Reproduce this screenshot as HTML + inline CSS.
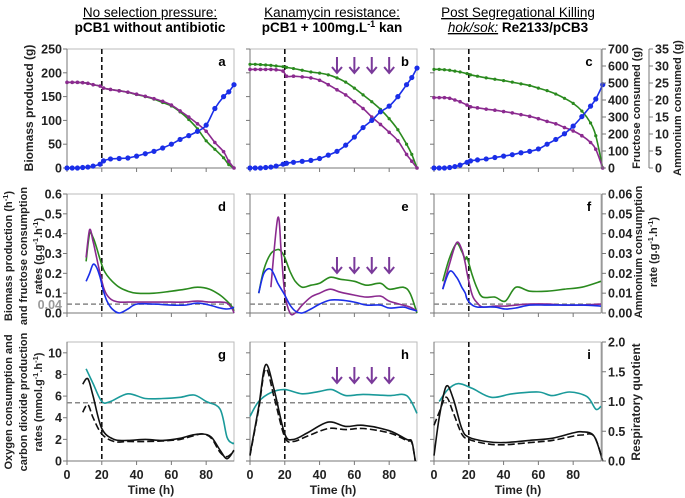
<!DOCTYPE html>
<html><head><meta charset="utf-8"><style>
body{margin:0;background:#fff}
svg{display:block;font-family:"Liberation Sans",Arial,sans-serif}
</style></head><body>
<svg id="fig" width="685" height="498" viewBox="0 0 685 498" xmlns="http://www.w3.org/2000/svg">
<g font-size="13.5" text-anchor="middle">
 <text x="150" y="17" text-decoration="underline">No selection pressure:</text>
 <text x="150" y="32" font-weight="bold">pCB1 without antibiotic</text>
 <text x="332" y="17" text-decoration="underline">Kanamycin resistance:</text>
 <text x="332" y="32" font-weight="bold">pCB1 + 100mg.L<tspan font-size="9" dy="-5">-1</tspan><tspan dy="5"> kan</tspan></text>
 <text x="518" y="17" text-decoration="underline">Post Segregational Killing</text>
 <text x="518" y="32"><tspan font-style="italic" text-decoration="underline">hok/sok:</tspan><tspan font-weight="bold"> Re2133/pCB3</tspan></text>
</g>
<g font-size="11" font-weight="bold" text-anchor="middle" fill="#222">
 <text font-size="12" transform="translate(33,108) rotate(-90)">Biomass produced (g)</text>
 <text transform="translate(12,256) rotate(-90)">Biomass production  (h<tspan font-size="7.5" dy="-4">-1</tspan><tspan dy="4">)</tspan></text>
 <text transform="translate(27,256) rotate(-90)">and fructose consumption</text>
 <text transform="translate(42,256) rotate(-90)">rates (g.g<tspan font-size="7.5" dy="-4">-1</tspan><tspan dy="4">.h</tspan><tspan font-size="7.5" dy="-4">-1</tspan><tspan dy="4">)</tspan></text>
 <text transform="translate(12,402) rotate(-90)">Oxygen consumption and</text>
 <text transform="translate(27,402) rotate(-90)">carbon dioxide production</text>
 <text transform="translate(42,402) rotate(-90)">rates (mmol.g<tspan font-size="7.5" dy="-4">-1</tspan><tspan dy="4">.h</tspan><tspan font-size="7.5" dy="-4">-1</tspan><tspan dy="4">)</tspan></text>
 <text transform="translate(640,108) rotate(-90)">Fructose consumed (g)</text>
 <text transform="translate(681,108) rotate(-90)">Ammonium consumed (g)</text>
 <text transform="translate(642,252) rotate(-90)">Ammonium consumption</text>
 <text transform="translate(657,252) rotate(-90)">rate (g.g<tspan font-size="7.5" dy="-4">-1</tspan><tspan dy="4">.h</tspan><tspan font-size="7.5" dy="-4">-1</tspan><tspan dy="4">)</tspan></text>
 <text font-size="12" transform="translate(640,402) rotate(-90)">Respiratory quotient</text>
 <text font-size="12" x="151" y="494">Time (h)</text>
 <text font-size="12" x="333" y="494">Time (h)</text>
 <text font-size="12" x="518" y="494">Time (h)</text>
</g>
</svg>
<script>
// ---- shared axes
const xTicks = [0,20,40,60,80];
const topTicks = [0,50,100,150,200,250];
const fructTicks = [0,100,200,300,400,500,600,700];
const ammTicks = [0,5,10,15,20,25,30,35];
const midTicks = [0,0.1,0.2,0.3,0.4,0.5,0.6];
const midRightTicks = [0,0.01,0.02,0.03,0.04,0.05,0.06];
const botTicks = [0,2,4,6,8,10];
const rqTicks = [0,0.5,1.0,1.5,2.0];
const arrowHours = [50,60,70,80];

// ---- top row: biomass (g), fructose (g), ammonium (g)
const aT=[0,3,6,9,12,15,19,21,25,30,35,40,45,50,55,60,65,70,75,80,85,90,93,96];
const aBio=[0,0,0,1,2,4,8,15,19,20,21,25,30,35,42,50,60,68,77,90,125,150,160,175];
const aFru=[504,504,504,502,498,490,482,470,462,455,445,432,420,405,385,365,330,285,230,160,110,60,20,0];
const aAmm=[25.2,25.2,25.2,25.1,24.9,24.5,24.1,23.5,23.1,22.7,22.3,21.7,21.1,20.4,19.6,18.5,16.8,15.0,13.0,10.8,7.5,4.8,2.0,0];
const bT=[0,3,6,9,12,15,19,21,25,30,35,40,45,50,55,60,65,70,75,80,85,90,93,96];
const bBio=[0,0,0,1,2,4,8,10,12,14,16,20,27,35,48,65,85,100,118,130,150,175,190,210];
const bFru=[610,610,608,606,604,600,596,592,585,575,565,558,548,530,505,470,430,390,345,290,225,140,80,0];
const bAmm=[29,29,29,29,29,28.9,28.5,27,27,26.8,26.5,25.8,24.5,23,21.5,19.5,17.5,15,12.8,10.5,8,4,2,0];
const cT=[0,3,6,9,12,15,19,21,25,30,35,40,45,50,55,60,65,70,75,80,85,90,93,97];
const cBio=[0,0,0,1,3,6,12,15,17,19,22,25,28,32,35,40,50,60,72,88,108,130,145,175];
const cFru=[580,580,578,575,570,565,555,548,540,530,522,514,505,495,485,470,455,435,410,380,335,265,190,0];
const cAmm=[20.7,20.7,20.7,20.5,20.0,19.5,18.5,18.0,17.7,17.3,17.0,16.6,16.2,15.7,15.2,14.5,13.7,13.0,11.9,10.9,9.5,7.5,5.5,0];

// ---- middle row: rates
const dT=[11,13,15,17,19,21,23,26,30,35,40,50,60,68,75,82,88,92,95,96];
const dGreen=[0.26,0.4,0.38,0.33,0.27,0.22,0.19,0.16,0.13,0.11,0.1,0.1,0.11,0.12,0.13,0.12,0.09,0.06,0.03,0.01];
const dPurple=[0.028,0.042,0.036,0.028,0.02,0.013,0.009,0.0065,0.0055,0.0055,0.0055,0.0055,0.0055,0.0055,0.006,0.0055,0.0055,0.005,0.002,0];
const dBlue=[0.16,0.2,0.245,0.23,0.18,0.11,0.06,0.02,0,0.02,0.045,0.045,0.04,0.04,0.05,0.04,0.025,0.02,0.025,0.03];
const eT=[5,8,12,16,18,20,23,26,30,35,40,46,52,60,67,75,80,88,92,96];
const eGreen=[0.1,0.22,0.3,0.32,0.31,0.28,0.21,0.16,0.13,0.14,0.15,0.18,0.17,0.16,0.14,0.15,0.12,0.13,0.1,0];
const ePurple=[null,null,0.013,0.048,0.03,0.01,0,0,0.004,0.008,0.01,0.012,0.0105,0.009,0.008,0.0085,0.006,0.004,0.003,0.001];
const eBlue=[0.1,0.2,0.22,0.15,0.12,0.09,0.04,0.01,0,0.02,0.045,0.065,0.065,0.055,0.04,0.04,0.025,0.03,0.02,0.01];
const fT=[5,9,13,16,18,19,22,25,28,35,41,47,55,65,75,85,96];
const fGreen=[0.16,0.28,0.35,0.31,0.27,0.28,0.19,0.12,0.08,0.08,0.06,0.13,0.11,0.11,0.12,0.13,0.16];
const fPurple=[0.012,0.025,0.0355,0.032,0.025,0.02,0.009,0.005,0.003,0.0035,0.0035,0.004,0.0045,0.0045,0.004,0.004,0.0045];
const fBlue=[0.12,0.21,0.18,0.13,0.1,0.07,0.04,0.03,0.03,0.03,0.02,0.025,0.04,0.04,0.04,0.04,0.035];
const midDashed = 0.045;

// ---- bottom row: O2 (solid), CO2 (dashed), RQ (teal)
const gT=[9,12,15,20,27,35,45,55,65,72,78,83,88,92,96];
const gO2=[7.1,7.6,6,3,2,1.9,2.0,1.9,2.1,2.4,2.5,2.2,1.0,0.2,1.0];
const gCO2=[4.5,5.2,4.0,2.5,1.8,1.8,1.8,1.85,2.0,2.3,2.5,2.1,0.8,0.4,0.9];
const gRQt=[11,15,20,25,35,45,55,65,73,80,88,92,95,96];
const gRQ=[1.55,1.3,1.0,1.0,1.13,1.05,1.05,1.07,1.11,1.0,0.87,0.4,0.3,0.3];
const hT=[0,5,9,14,20,25,33,45,55,65,80,90,93,95];
const hO2=[0.6,5,8.9,6.5,2.5,2.0,2.6,3.6,3.2,3.3,2.8,2.0,1.8,0];
const hCO2=[0.5,4.8,8.5,5.8,2.2,1.8,2.3,3.0,2.9,3.0,2.6,1.9,1.7,0];
const hRQt=[0,5,12,20,30,40,47,55,65,80,90,96];
const hRQ=[0.75,1.0,1.15,1.2,1.13,1.17,1.2,1.1,1.12,1.1,1.1,0.8];
const iT=[0,3,7,11,16,20,30,40,55,68,80,85,92,97];
const iO2=[0.5,4,6.9,5.8,3,2.2,1.8,1.7,1.9,2.1,2.6,2.7,2.3,0];
const iCO2=[3.3,4.5,5.9,4.5,2.5,2.0,1.6,1.5,1.7,1.9,2.3,2.4,2.3,0];
const iRQt=[3,8,14,22,33,45,60,68,78,88,93,96];
const iRQ=[1.0,1.2,1.3,1.22,1.07,1.13,1.16,1.1,1.16,1.08,0.87,0.92];
const rqDashed = 0.98;

const NS="http://www.w3.org/2000/svg";
const svg=document.getElementById('fig');
function mk(tag,attrs,parent){const e=document.createElementNS(NS,tag);for(const k in attrs)e.setAttribute(k,attrs[k]);(parent||svg).appendChild(e);return e;}
const cols=[67,250,434], W=167, XMAX=96;
const rows=[{top:49,bot:168},{top:194,bot:313},{top:342,bot:461}];
function sx(c,h){return cols[c]+h/XMAX*W;}
function sy(r,v,max){return rows[r].bot-v/max*(rows[r].bot-rows[r].top);}
function pathD(pts){
  if(pts.length<2)return '';
  let d='M'+pts[0][0].toFixed(1)+','+pts[0][1].toFixed(1);
  for(let i=0;i<pts.length-1;i++){
    const p0=pts[i-1]||pts[i],p1=pts[i],p2=pts[i+1],p3=pts[i+2]||p2;
    const c1=[p1[0]+(p2[0]-p0[0])/6,p1[1]+(p2[1]-p0[1])/6];
    const c2=[p2[0]-(p3[0]-p1[0])/6,p2[1]-(p3[1]-p1[1])/6];
    d+=`C${c1[0].toFixed(1)},${c1[1].toFixed(1)} ${c2[0].toFixed(1)},${c2[1].toFixed(1)} ${p2[0].toFixed(1)},${p2[1].toFixed(1)}`;
  }
  return d;
}
function series(c,r,ts,vs,max,color,name,opts){
  opts=opts||{};
  const pts=[];
  ts.forEach((t,i)=>{if(vs[i]!==null)pts.push([sx(c,t),sy(r,vs[i],max)]);});
  const p=mk('path',{d:pathD(pts),fill:'none',stroke:color,'stroke-width':opts.w||1.6,'stroke-dasharray':opts.dash||'none'});
  
  
  if(opts.marker){
    pts.forEach(q=>{
      const m=mk('circle',{cx:q[0],cy:q[1],r:opts.marker,fill:color});
      
      
    });
  }
}
function frame(c,r,letter,ticks,max,showLabels,fmt){
  const x0=cols[c],x1=x0+W,t=rows[r].top,b=rows[r].bot;
  const f=mk('rect',{x:x0,y:t,width:W,height:b-t,fill:'none',stroke:'#bbb','stroke-width':1});
  
  
  mk('line',{x1:x0,y1:t,x2:x0,y2:b,stroke:'#777','stroke-width':1});
  mk('line',{x1:x0,y1:b,x2:x1,y2:b,stroke:'#777','stroke-width':1});
  ticks.forEach(v=>{
    const y=sy(r,v,max);
    mk('line',{x1:x0-4,y1:y,x2:x0,y2:y,stroke:'#777'});
    if(showLabels){
      const tx=mk('text',{x:x0-5,y:y+4.5,'text-anchor':'end','font-size':12.5,'font-weight':'bold',fill:'#222'});
      tx.textContent=fmt(v);
      
      
    }
  });
  xTicks.forEach(h=>{
    const x=sx(c,h);
    mk('line',{x1:x,y1:b,x2:x,y2:b+4,stroke:'#777'});
    if(r===2){
      const tx=mk('text',{x:x,y:479,'text-anchor':'middle','font-size':12.5,'font-weight':'bold',fill:'#222'});
      tx.textContent=h;
      
      
    }
  });
  const lt=mk('text',{x:x1-12,y:t+17,'text-anchor':'middle','font-size':13,'font-weight':'bold'});
  lt.textContent=letter;
  
  
}
function vline(c,r){
  const x=sx(c,20);
  const l=mk('line',{x1:x,y1:rows[r].top,x2:x,y2:rows[r].bot,stroke:'#111','stroke-width':1.6,'stroke-dasharray':'5,3'});
  
  
}
function hline(c,r,v,max){
  const y=sy(r,v,max);
  const l=mk('line',{x1:cols[c],y1:y,x2:cols[c]+W,y2:y,stroke:'#888','stroke-width':1.5,'stroke-dasharray':'5,3'});
  
  
}
function arrows(c,y0,y1){
  arrowHours.forEach(h=>{
    const x=sx(c,h);
    const g=mk('path',{d:`M${x},${y0}L${x},${y1}M${x-5},${y1-6}L${x},${y1}L${x+5},${y1-6}`,fill:'none',stroke:'#7a3a9a','stroke-width':2});
    
    
  });
}
function rightAxis(x,r,ticks,max,fmt,name){
  mk('line',{x1:x,y1:rows[r].top,x2:x,y2:rows[r].bot,stroke:'#777'});
  ticks.forEach(v=>{
    const y=sy(r,v,max);
    mk('line',{x1:x,y1:y,x2:x+4,y2:y,stroke:'#777'});
    const tx=mk('text',{x:x+6,y:y+4.5,'font-size':12.5,'font-weight':'bold',fill:'#222'});
    tx.textContent=fmt(v);
    
    
  });
}
const GREEN='#2a8a1e',PURPLE='#8b2a8f',BLUE='#1a2ee8',TEAL='#1a9a9a';
const tops=[[aT,aBio,aFru,aAmm,'a'],[bT,bBio,bFru,bAmm,'b'],[cT,cBio,cFru,cAmm,'c']];
tops.forEach((d,c)=>{
  frame(c,0,d[4],topTicks,250,c===0,v=>v);
  vline(c,0);
  series(c,0,d[0],d[2],700,GREEN,'fructose-consumed-'+d[4],{marker:1.6});
  series(c,0,d[0],d[3],35,PURPLE,'ammonium-consumed-'+d[4],{marker:1.8});
  series(c,0,d[0],d[1],250,BLUE,'biomass-produced-'+d[4],{marker:2.6});
});
rightAxis(602,0,fructTicks,700,v=>v,'y2-tick-label');
rightAxis(649,0,ammTicks,35,v=>v,'y3-tick-label');
arrows(1,57,73);
const mids=[[dT,dGreen,dPurple,dBlue,'d'],[eT,eGreen,ePurple,eBlue,'e'],[fT,fGreen,fPurple,fBlue,'f']];
mids.forEach((d,c)=>{
  frame(c,1,d[4],midTicks,0.6,c===0,v=>v.toFixed(1));
  hline(c,1,midDashed,0.6);
  vline(c,1);
  series(c,1,d[0],d[1],0.6,GREEN,'fructose-rate-'+d[4]);
  series(c,1,d[0],d[2],0.06,PURPLE,'ammonium-rate-'+d[4]);
  series(c,1,d[0],d[3],0.6,BLUE,'growth-rate-'+d[4]);
});
{const t=mk('text',{x:62,y:sy(1,midDashed,0.6)+5,'text-anchor':'end','font-size':12.5,'font-weight':'bold',fill:'#999'});t.textContent='0.04';

}
rightAxis(602,1,midRightTicks,0.06,v=>v.toFixed(2),'y2-tick-label');
arrows(1,257,273);
const bots=[[gT,gO2,gCO2,gRQt,gRQ,'g'],[hT,hO2,hCO2,hRQt,hRQ,'h'],[iT,iO2,iCO2,iRQt,iRQ,'i']];
bots.forEach((d,c)=>{
  frame(c,2,d[5],botTicks,11,c===0,v=>v);
  hline(c,2,rqDashed,2.0);
  vline(c,2);
  series(c,2,d[3],d[4],2.0,TEAL,'respiratory-quotient-'+d[5]);
  series(c,2,d[0],d[2],11,'#111','co2-production-'+d[5],{dash:'7,3'});
  series(c,2,d[0],d[1],11,'#111','o2-consumption-'+d[5]);
});
rightAxis(602,2,rqTicks,2.0,v=>v.toFixed(1),'y2-tick-label');
arrows(1,367,383);
</script>
</body></html>
